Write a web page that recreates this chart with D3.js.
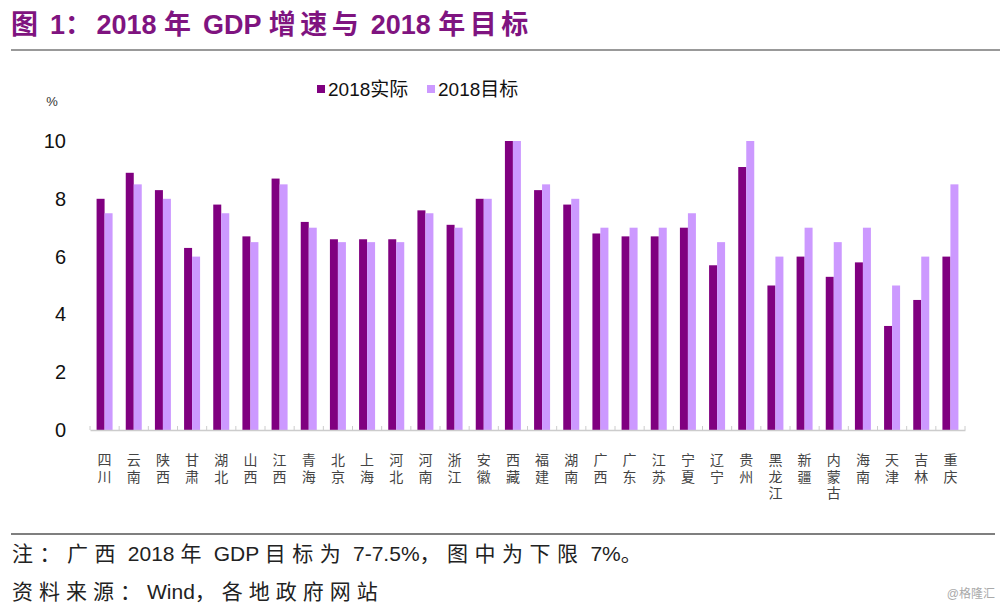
<!DOCTYPE html>
<html><head><meta charset="utf-8">
<script src="https://cdn.jsdelivr.net/npm/d3@7"></script>
<style>
html,body{margin:0;padding:0;background:#fff;}
svg{display:block;}
</style></head>
<body><svg id="c" width="1000" height="608"></svg>
<script>
const categories = ["四川","云南","陕西","甘肃","湖北","山西","江西","青海","北京","上海","河北","河南","浙江","安徽","西藏","福建","湖南","广西","广东","江苏","宁夏","辽宁","贵州","黑龙江","新疆","内蒙古","海南","天津","吉林","重庆"];
const actual2018 = [8.0,8.9,8.3,6.3,7.8,6.7,8.7,7.2,6.6,6.6,6.6,7.6,7.1,8.0,10.0,8.3,7.8,6.8,6.7,6.7,7.0,5.7,9.1,5.0,6.0,5.3,5.8,3.6,4.5,6.0];
const target2018 = [7.5,8.5,8.0,6.0,7.5,6.5,8.5,7.0,6.5,6.5,6.5,7.5,7.0,8.0,10.0,8.5,8.0,7.0,7.0,7.0,7.5,6.5,10.0,6.0,7.0,6.5,7.0,5.0,6.0,8.5];
const yTicks = [0,2,4,6,8,10];
const seriesNames = ["2018实际","2018目标"];
const colors = ["#800080","#cc99ff"];
const titleText = "图 1：2018 年 GDP 增速与 2018 年目标";
const noteText = "注：广西 2018 年 GDP 目标为 7-7.5%，图中为下限 7%。";
const sourceText = "资料来源：Wind，各地政府网站";

const svg = d3.select("#c");
const font = "'Liberation Sans', Arial, 'Noto Sans CJK SC', sans-serif";

// text with extra spacing only on CJK runs
function mixedText(sel, str, cjkSpacing){
  const runs = [];
  const isCJK = ch => /[\u3000-\u303f\u4e00-\u9fff\uff00-\uffef]/.test(ch);
  for (const ch of str){
    const k = isCJK(ch);
    if (runs.length && runs[runs.length-1].k === k) runs[runs.length-1].s += ch;
    else runs.push({k, s: ch});
  }
  runs.forEach(r=>{
    sel.append("tspan").attr("letter-spacing", r.k ? cjkSpacing : 0).text(r.s);
  });
  return sel;
}

// title
mixedText(svg.append("text").attr("x",11).attr("y",34)
  .attr("font-family",font)
  .attr("font-weight","bold").attr("font-size",27).attr("fill","#7f1480")
  .attr("xml:space","preserve"), titleText, 4.5);
svg.append("line").attr("x1",11).attr("x2",1000).attr("y1",50).attr("y2",50)
  .attr("stroke","#777").attr("stroke-width",1.5);

const x0 = d3.scaleBand().domain(categories).range([90,965]).paddingInner(0).paddingOuter(0);
const bw = 8;
const y = d3.scaleLinear().domain([0,10]).range([430,141]);

// y axis labels
const ya = svg.append("g").attr("transform","translate(66,0)")
  .call(d3.axisLeft(y).tickValues(yTicks).tickSize(0).tickPadding(0).tickFormat(d3.format("d")));
ya.select(".domain").remove();
ya.selectAll("text").attr("font-family",font).attr("font-size",20).attr("fill","#111");

svg.append("text").attr("x",52).attr("y",106).attr("text-anchor","middle")
  .attr("font-family",font).attr("font-size",13).attr("fill","#333").text("%");

// bars
const data = categories.map((c,i)=>({c, v:[actual2018[i], target2018[i]]}));
const g = svg.append("g");
data.forEach(d=>{
  const cx = x0(d.c) + x0.bandwidth()/2;
  d.v.forEach((v,j)=>{
    g.append("rect").attr("x", cx - bw + j*bw).attr("width", bw)
      .attr("y", y(v)).attr("height", y(0)-y(v)).attr("fill", colors[j]);
  });
});

// x axis
const xa = svg.append("g").attr("transform","translate(0,430)")
  .call(d3.axisBottom(x0).tickSize(0).tickFormat(""));
xa.select(".domain").attr("stroke","#ccc").attr("stroke-width",1.5);
const edges = categories.map(c=>x0(c)).concat([965]);
svg.append("g").selectAll("line").data(edges).join("line")
  .attr("x1",d=>d).attr("x2",d=>d).attr("y1",426).attr("y2",430)
  .attr("stroke","#ccc").attr("stroke-width",1);

// x labels vertical
const lab = svg.append("g");
categories.forEach(c=>{
  const cx = x0(c) + x0.bandwidth()/2;
  lab.append("text").attr("font-family","'Noto Sans CJK SC', sans-serif")
    .attr("font-size",14).attr("fill","#444")
    .style("writing-mode","vertical-rl").style("text-orientation","upright")
    .attr("letter-spacing",2.5)
    .attr("x",cx).attr("y",453).text(c);
});

// legend
const leg = svg.append("g");
const legX = [317, 427];
seriesNames.forEach((n,i)=>{
  leg.append("rect").attr("x",legX[i]).attr("y",85).attr("width",8).attr("height",8).attr("fill",colors[i]);
  leg.append("text").attr("x",legX[i]+11).attr("y",96).attr("font-family",font)
    .attr("font-size",19).attr("fill","#111").text(n);
});

// bottom
svg.append("line").attr("x1",11).attr("x2",995).attr("y1",534).attr("y2",534)
  .attr("stroke","#555").attr("stroke-width",1.5);
mixedText(svg.append("text").attr("x",12).attr("y",561).attr("font-family",font)
  .attr("font-size",21).attr("fill","#222"), noteText, 6.5);
mixedText(svg.append("text").attr("x",12).attr("y",599).attr("font-family",font)
  .attr("font-size",21).attr("fill","#222"), sourceText, 6);
svg.append("text").attr("x",995).attr("y",598).attr("text-anchor","end").attr("font-family",font)
  .attr("font-size",12).attr("fill","#aaa").text("@格隆汇");
</script></body></html>
